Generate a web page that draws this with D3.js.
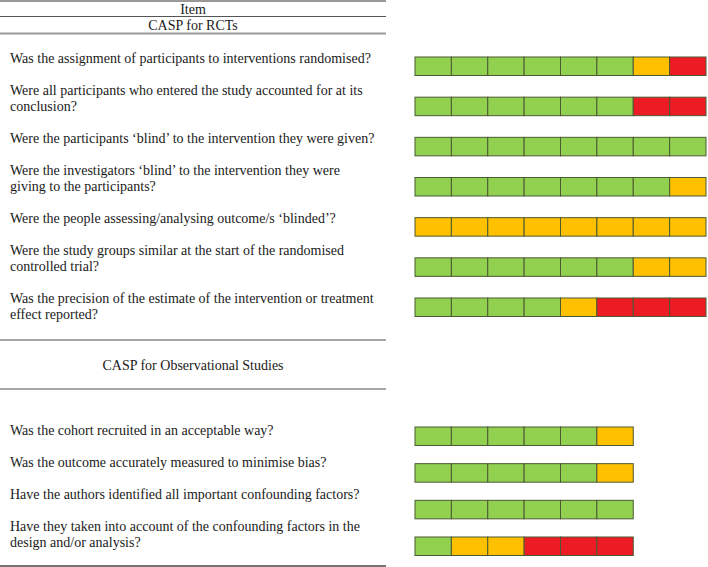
<!DOCTYPE html>
<html>
<head>
<meta charset="utf-8">
<script src="https://cdn.jsdelivr.net/npm/d3@7"></script>
<style>
  html, body { margin: 0; padding: 0; background: #fff; }
  svg { display: block; }
  text { font-family: "Liberation Serif", "Times New Roman", serif; fill: #1a1a1a; }
</style>
</head>
<body>
<svg id="chart" width="708" height="567"></svg>
<script>
// ---------------- DATA ----------------
const headerItem = "Item";
const sectionTitles = ["CASP for RCTs", "CASP for Observational Studies"];

const rctQuestions = [
  ["Was the assignment of participants to interventions randomised?"],
  ["Were all participants who entered the study accounted for at its", "conclusion?"],
  ["Were the participants \u2018blind\u2019 to the intervention they were given?"],
  ["Were the investigators \u2018blind\u2019 to the intervention they were", "giving to the participants?"],
  ["Were the people assessing/analysing outcome/s \u2018blinded\u2019?"],
  ["Were the study groups similar at the start of the randomised", "controlled trial?"],
  ["Was the precision of the estimate of the intervention or treatment", "effect reported?"]
];
// G = yes (green), U = unclear (amber), N = no (red)
const rctRatings = [
  ["G","G","G","G","G","G","U","N"],
  ["G","G","G","G","G","G","N","N"],
  ["G","G","G","G","G","G","G","G"],
  ["G","G","G","G","G","G","G","U"],
  ["U","U","U","U","U","U","U","U"],
  ["G","G","G","G","G","G","U","U"],
  ["G","G","G","G","U","N","N","N"]
];

const obsQuestions = [
  ["Was the cohort recruited in an acceptable way?"],
  ["Was the outcome accurately measured to minimise bias?"],
  ["Have the authors identified all important confounding factors?"],
  ["Have they taken into account of the confounding factors in the", "design and/or analysis?"]
];
const obsRatings = [
  ["G","G","G","G","G","U"],
  ["G","G","G","G","G","U"],
  ["G","G","G","G","G","G"],
  ["G","U","U","N","N","N"]
];

const ratingKeys = ["G", "U", "N"];
const ratingColors = ["#92D050", "#FFC000", "#ED1C24"];

// ---------------- LAYOUT ----------------
const svg = d3.select("#chart");
const fontSize = 14;
const textX = 10;
const tableRight = 386;
const lineH = 16;
const paraGap = 32;

const color = d3.scaleOrdinal().domain(ratingKeys).range(ratingColors);
// one cell unit on the x axis
const x = d3.scaleLinear().domain([0, 8]).range([415, 706]);

function rule(y, stroke, w) {
  svg.append("line")
    .attr("x1", 0).attr("x2", tableRight)
    .attr("y1", y).attr("y2", y)
    .attr("stroke", stroke).attr("stroke-width", w);
}

function centerText(str, y) {
  svg.append("text")
    .attr("x", tableRight / 2).attr("y", y)
    .attr("text-anchor", "middle").attr("dominant-baseline", "central")
    .attr("font-size", fontSize).text(str);
}

function drawQuestions(questions, startY) {
  let y = startY;
  questions.forEach(lines => {
    const t = svg.append("text").attr("font-size", fontSize);
    lines.forEach((ln, j) => {
      t.append("tspan").attr("x", textX).attr("y", y + j * lineH)
        .attr("dominant-baseline", "central").text(ln);
    });
    y += (lines.length - 1) * lineH + paraGap;
  });
}

function drawBars(ratings, yTop, yBottom) {
  const y = d3.scalePoint().domain(d3.range(ratings.length)).range([yTop, yBottom]);
  const barH = 18.5;
  const rows = svg.append("g").selectAll("g").data(ratings).join("g")
    .attr("transform", (d, i) => `translate(0,${y(i)})`);
  rows.selectAll("rect").data(d => d).join("rect")
    .attr("x", (d, i) => x(i))
    .attr("y", 0)
    .attr("width", (d, i) => x(i + 1) - x(i))
    .attr("height", barH)
    .attr("fill", d => color(d))
    .attr("stroke", "#4b5a32")
    .attr("stroke-width", 1);
}

// Header
rule(1, "#333", 1.2);
centerText(headerItem, 9);
rule(16.5, "#555", 1.2);
centerText(sectionTitles[0], 25);
rule(33.5, "#999", 1.8);

// RCT section
drawQuestions(rctQuestions, 58);
drawBars(rctRatings, 57, 298);

// Observational section
rule(340, "#888", 1.6);
centerText(sectionTitles[1], 365);
rule(389, "#888", 1.6);
drawQuestions(obsQuestions, 430);
drawBars(obsRatings, 427, 537);
rule(566, "#444", 1.4);
</script>
</body>
</html>
